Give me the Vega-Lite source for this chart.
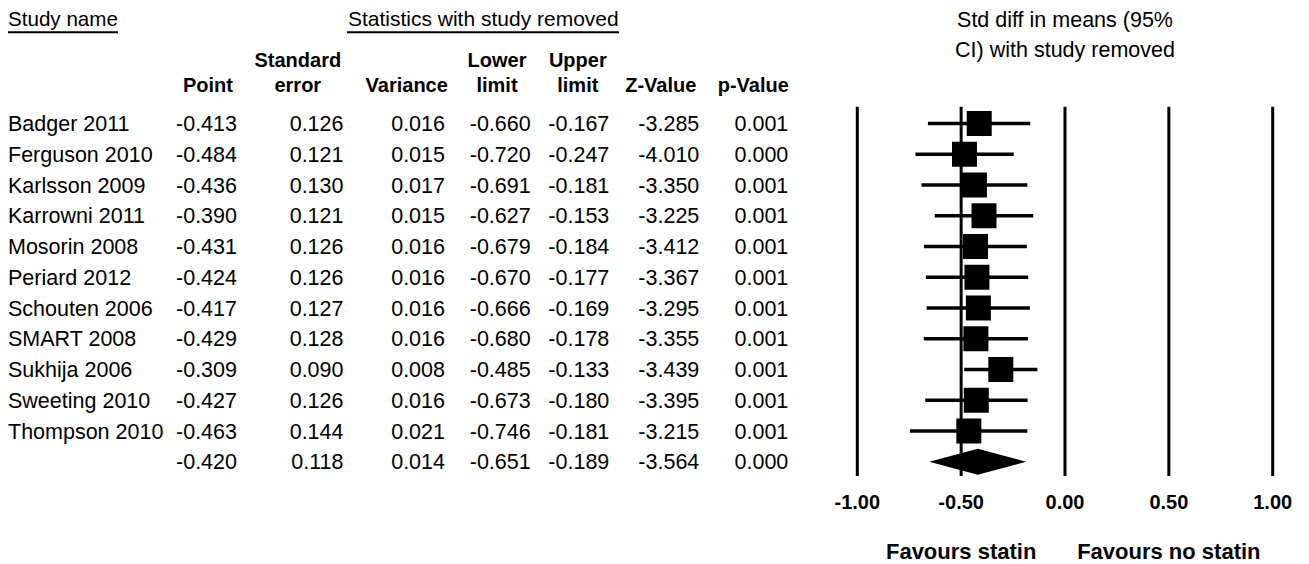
{
  "$schema": "https://vega.github.io/schema/vega-lite/v6.json",
  "width": 1309,
  "height": 564,
  "padding": 0,
  "autosize": {"type": "fit", "contains": "padding"},
  "config": {
    "view": {"stroke": null},
    "text": {"font": "Liberation Sans", "color": "black"},
    "locale": {"number": {"decimal": ".", "thousands": ",", "grouping": [3], "currency": ["$", ""], "minus": "-"}}
  },
  "datasets": {
    "studies": [
      {"row": 1, "kind": "study", "study": "Badger 2011", "point": -0.413, "se": 0.126, "variance": 0.016, "lower": -0.660, "upper": -0.167, "z": -3.285, "p": 0.001},
      {"row": 2, "kind": "study", "study": "Ferguson 2010", "point": -0.484, "se": 0.121, "variance": 0.015, "lower": -0.720, "upper": -0.247, "z": -4.010, "p": 0.000},
      {"row": 3, "kind": "study", "study": "Karlsson 2009", "point": -0.436, "se": 0.130, "variance": 0.017, "lower": -0.691, "upper": -0.181, "z": -3.350, "p": 0.001},
      {"row": 4, "kind": "study", "study": "Karrowni 2011", "point": -0.390, "se": 0.121, "variance": 0.015, "lower": -0.627, "upper": -0.153, "z": -3.225, "p": 0.001},
      {"row": 5, "kind": "study", "study": "Mosorin 2008", "point": -0.431, "se": 0.126, "variance": 0.016, "lower": -0.679, "upper": -0.184, "z": -3.412, "p": 0.001},
      {"row": 6, "kind": "study", "study": "Periard 2012", "point": -0.424, "se": 0.126, "variance": 0.016, "lower": -0.670, "upper": -0.177, "z": -3.367, "p": 0.001},
      {"row": 7, "kind": "study", "study": "Schouten 2006", "point": -0.417, "se": 0.127, "variance": 0.016, "lower": -0.666, "upper": -0.169, "z": -3.295, "p": 0.001},
      {"row": 8, "kind": "study", "study": "SMART 2008", "point": -0.429, "se": 0.128, "variance": 0.016, "lower": -0.680, "upper": -0.178, "z": -3.355, "p": 0.001},
      {"row": 9, "kind": "study", "study": "Sukhija 2006", "point": -0.309, "se": 0.090, "variance": 0.008, "lower": -0.485, "upper": -0.133, "z": -3.439, "p": 0.001},
      {"row": 10, "kind": "study", "study": "Sweeting 2010", "point": -0.427, "se": 0.126, "variance": 0.016, "lower": -0.673, "upper": -0.180, "z": -3.395, "p": 0.001},
      {"row": 11, "kind": "study", "study": "Thompson 2010", "point": -0.463, "se": 0.144, "variance": 0.021, "lower": -0.746, "upper": -0.181, "z": -3.215, "p": 0.001},
      {"row": 12, "kind": "overall", "study": "", "point": -0.420, "se": 0.118, "variance": 0.014, "lower": -0.651, "upper": -0.189, "z": -3.564, "p": 0.000}
    ],
    "ticks": [{"v": -1}, {"v": -0.5}, {"v": 0}, {"v": 0.5}, {"v": 1}],
    "one": [{}]
  },
  "resolve": {"scale": {"x": "independent"}},
  "layer": [
    {
      "layer": [
        {
          "data": {"name": "studies"},
          "mark": {"type": "text", "align": "left", "baseline": "alphabetic", "dx": -137, "dy": 7.7, "fontSize": 21.5},
          "encoding": {
            "x": {"datum": "name", "type": "nominal", "scale": {"type": "point", "domain": ["name", "Point", "SE", "Var", "Lower", "Upper", "Z", "p"], "range": [145, 789], "padding": 0}, "axis": null},
            "y": {"field": "row", "type": "quantitative", "scale": {"type": "linear", "domain": [-3.016, 15.325], "reverse": true, "nice": false, "zero": false}, "axis": null},
            "text": {"field": "study", "type": "nominal"}
          }
        },
        {
          "data": {"name": "studies"},
          "mark": {"type": "text", "align": "right", "baseline": "alphabetic", "dx": 0, "dy": 7.7, "fontSize": 21.5},
          "encoding": {
            "x": {"datum": "Point", "type": "nominal"},
            "y": {"field": "row", "type": "quantitative"},
            "text": {"field": "point", "type": "quantitative", "format": ".3f"}
          }
        },
        {
          "data": {"name": "studies"},
          "mark": {"type": "text", "align": "right", "baseline": "alphabetic", "dx": 14.5, "dy": 7.7, "fontSize": 21.5},
          "encoding": {
            "x": {"datum": "SE", "type": "nominal"},
            "y": {"field": "row", "type": "quantitative"},
            "text": {"field": "se", "type": "quantitative", "format": ".3f"}
          }
        },
        {
          "data": {"name": "studies"},
          "mark": {"type": "text", "align": "right", "baseline": "alphabetic", "dx": 24, "dy": 7.7, "fontSize": 21.5},
          "encoding": {
            "x": {"datum": "Var", "type": "nominal"},
            "y": {"field": "row", "type": "quantitative"},
            "text": {"field": "variance", "type": "quantitative", "format": ".3f"}
          }
        },
        {
          "data": {"name": "studies"},
          "mark": {"type": "text", "align": "right", "baseline": "alphabetic", "dx": 17.7, "dy": 7.7, "fontSize": 21.5},
          "encoding": {
            "x": {"datum": "Lower", "type": "nominal"},
            "y": {"field": "row", "type": "quantitative"},
            "text": {"field": "lower", "type": "quantitative", "format": ".3f"}
          }
        },
        {
          "data": {"name": "studies"},
          "mark": {"type": "text", "align": "right", "baseline": "alphabetic", "dx": 4.3, "dy": 7.7, "fontSize": 21.5},
          "encoding": {
            "x": {"datum": "Upper", "type": "nominal"},
            "y": {"field": "row", "type": "quantitative"},
            "text": {"field": "upper", "type": "quantitative", "format": ".3f"}
          }
        },
        {
          "data": {"name": "studies"},
          "mark": {"type": "text", "align": "right", "baseline": "alphabetic", "dx": 2.3, "dy": 7.7, "fontSize": 21.5},
          "encoding": {
            "x": {"datum": "Z", "type": "nominal"},
            "y": {"field": "row", "type": "quantitative"},
            "text": {"field": "z", "type": "quantitative", "format": ".3f"}
          }
        },
        {
          "data": {"name": "studies"},
          "mark": {"type": "text", "align": "right", "baseline": "alphabetic", "dx": -0.7, "dy": 7.7, "fontSize": 21.5},
          "encoding": {
            "x": {"datum": "p", "type": "nominal"},
            "y": {"field": "row", "type": "quantitative"},
            "text": {"field": "p", "type": "quantitative", "format": ".3f"}
          }
        },
        {
          "data": {"name": "one"},
          "mark": {"type": "text", "text": "Study name", "align": "left", "baseline": "alphabetic", "dx": -137, "fontSize": 20.6},
          "encoding": {
            "x": {"datum": "name", "type": "nominal"},
            "y": {"datum": -2.17, "type": "quantitative"}
          }
        },
        {
          "data": {"name": "one"},
          "mark": {"type": "rule", "xOffset": -137, "x2Offset": -27, "strokeWidth": 2, "color": "black"},
          "encoding": {
            "x": {"datum": "name", "type": "nominal"},
            "x2": {"datum": "name"},
            "y": {"datum": -1.966, "type": "quantitative"}
          }
        },
        {
          "data": {"name": "one"},
          "mark": {"type": "text", "text": "Statistics with study removed", "align": "center", "baseline": "alphabetic", "dx": -29.7, "fontSize": 21},
          "encoding": {
            "x": {"datum": "Lower", "type": "nominal"},
            "y": {"datum": -2.17, "type": "quantitative"}
          }
        },
        {
          "data": {"name": "one"},
          "mark": {"type": "rule", "xOffset": -74, "x2Offset": 14, "strokeWidth": 2, "color": "black"},
          "encoding": {
            "x": {"datum": "Var", "type": "nominal"},
            "x2": {"datum": "Upper"},
            "y": {"datum": -1.966, "type": "quantitative"}
          }
        },
        {
          "data": {"name": "one"},
          "mark": {"type": "text", "text": "Point", "align": "center", "baseline": "alphabetic", "dx": -29, "fontSize": 20, "fontWeight": "bold"},
          "encoding": {"x": {"datum": "Point", "type": "nominal"}, "y": {"datum": -0.024, "type": "quantitative"}}
        },
        {
          "data": {"name": "one"},
          "mark": {"type": "text", "text": ["Standard", "error"], "lineHeight": 25, "align": "center", "baseline": "alphabetic", "dx": -31.2, "fontSize": 20, "fontWeight": "bold"},
          "encoding": {"x": {"datum": "SE", "type": "nominal"}, "y": {"datum": -0.837, "type": "quantitative"}}
        },
        {
          "data": {"name": "one"},
          "mark": {"type": "text", "text": "Variance", "align": "center", "baseline": "alphabetic", "dx": -14.3, "fontSize": 20, "fontWeight": "bold"},
          "encoding": {"x": {"datum": "Var", "type": "nominal"}, "y": {"datum": -0.024, "type": "quantitative"}}
        },
        {
          "data": {"name": "one"},
          "mark": {"type": "text", "text": ["Lower", "limit"], "lineHeight": 25, "align": "center", "baseline": "alphabetic", "dx": -16, "fontSize": 20, "fontWeight": "bold"},
          "encoding": {"x": {"datum": "Lower", "type": "nominal"}, "y": {"datum": -0.837, "type": "quantitative"}}
        },
        {
          "data": {"name": "one"},
          "mark": {"type": "text", "text": ["Upper", "limit"], "lineHeight": 25, "align": "center", "baseline": "alphabetic", "dx": -27.2, "fontSize": 20, "fontWeight": "bold"},
          "encoding": {"x": {"datum": "Upper", "type": "nominal"}, "y": {"datum": -0.837, "type": "quantitative"}}
        },
        {
          "data": {"name": "one"},
          "mark": {"type": "text", "text": "Z-Value", "align": "center", "baseline": "alphabetic", "dx": -36.2, "fontSize": 20, "fontWeight": "bold"},
          "encoding": {"x": {"datum": "Z", "type": "nominal"}, "y": {"datum": -0.024, "type": "quantitative"}}
        },
        {
          "data": {"name": "one"},
          "mark": {"type": "text", "text": "p-Value", "align": "center", "baseline": "alphabetic", "dx": -35.7, "fontSize": 20, "fontWeight": "bold"},
          "encoding": {"x": {"datum": "p", "type": "nominal"}, "y": {"datum": -0.024, "type": "quantitative"}}
        }
      ]
    },
    {
      "layer": [
        {
          "data": {"name": "ticks"},
          "mark": {"type": "rule", "strokeWidth": 3, "color": "black"},
          "encoding": {
            "x": {"field": "v", "type": "quantitative", "scale": {"type": "linear", "domain": [-5.1276, 1.1748], "nice": false, "zero": false}, "axis": null},
            "y": {"datum": 0.454, "type": "quantitative"},
            "y2": {"datum": 12.464}
          }
        },
        {
          "data": {"name": "studies"},
          "transform": [{"filter": "datum.kind == 'study'"}],
          "mark": {"type": "rule", "strokeWidth": 3.3, "color": "black"},
          "encoding": {
            "x": {"field": "lower", "type": "quantitative"},
            "x2": {"field": "upper"},
            "y": {"field": "row", "type": "quantitative"}
          }
        },
        {
          "data": {"name": "studies"},
          "transform": [{"filter": "datum.kind == 'study'"}],
          "mark": {"type": "point", "shape": "square", "filled": true, "size": 625, "opacity": 1, "color": "black"},
          "encoding": {
            "x": {"field": "point", "type": "quantitative"},
            "y": {"field": "row", "type": "quantitative"}
          }
        },
        {
          "data": {"name": "studies"},
          "transform": [{"filter": "datum.kind == 'overall'"}],
          "mark": {"type": "point", "shape": "M-1,0L0,-0.268L1,0L0,0.268Z", "filled": true, "size": 9409, "opacity": 1, "color": "black"},
          "encoding": {
            "x": {"field": "point", "type": "quantitative"},
            "y": {"field": "row", "type": "quantitative"}
          }
        },
        {
          "data": {"name": "ticks"},
          "mark": {"type": "text", "align": "center", "baseline": "alphabetic", "fontSize": 20, "fontWeight": "bold"},
          "encoding": {
            "x": {"field": "v", "type": "quantitative"},
            "y": {"datum": 13.537, "type": "quantitative"},
            "text": {"field": "v", "type": "quantitative", "format": ".2f"}
          }
        },
        {
          "data": {"name": "one"},
          "mark": {"type": "text", "text": ["Std diff in means (95%", "CI) with study removed"], "lineHeight": 30.5, "align": "center", "baseline": "alphabetic", "fontSize": 21.5},
          "encoding": {
            "x": {"datum": 0, "type": "quantitative"},
            "y": {"datum": -2.154, "type": "quantitative"}
          }
        },
        {
          "data": {"name": "one"},
          "mark": {"type": "text", "text": "Favours statin", "align": "center", "baseline": "alphabetic", "fontSize": 22, "fontWeight": "bold"},
          "encoding": {
            "x": {"datum": -0.5, "type": "quantitative"},
            "y": {"datum": 15.163, "type": "quantitative"}
          }
        },
        {
          "data": {"name": "one"},
          "mark": {"type": "text", "text": "Favours no statin", "align": "center", "baseline": "alphabetic", "fontSize": 22, "fontWeight": "bold"},
          "encoding": {
            "x": {"datum": 0.5, "type": "quantitative"},
            "y": {"datum": 15.163, "type": "quantitative"}
          }
        }
      ]
    }
  ]
}
